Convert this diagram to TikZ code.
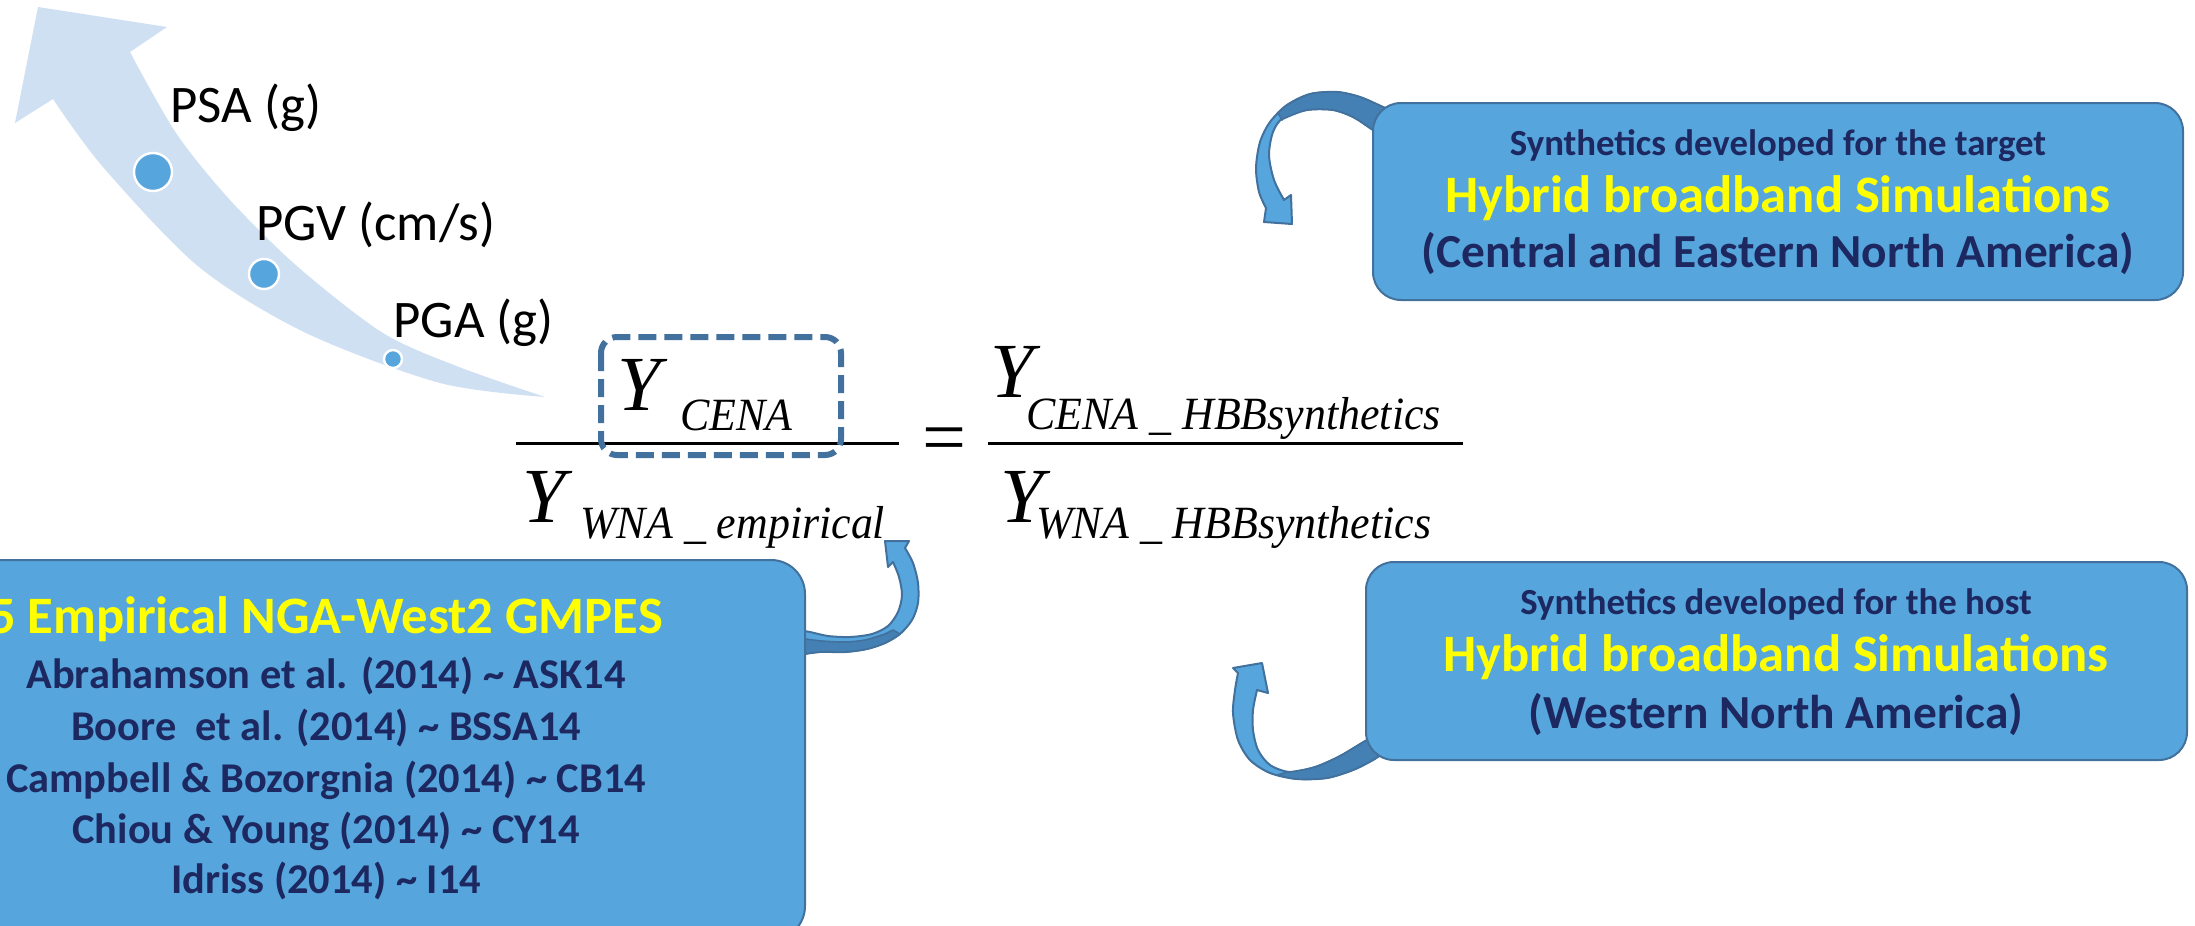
\documentclass[tikz,border=0pt]{standalone}
\usepackage{fontspec}
\newfontfamily\carl{Carlito}
\newfontfamily\eqf{Liberation Serif}
\newfontfamily\eqs[FakeStretch=0.95]{Liberation Serif}
\definecolor{boxfill}{RGB}{86,165,221}
\definecolor{boxline}{RGB}{65,113,156}
\definecolor{ribdark}{RGB}{68,128,180}
\definecolor{bigarrow}{RGB}{208,224,243}
\definecolor{navy}{RGB}{28,40,95}
\definecolor{ylw}{RGB}{255,255,0}
\tikzset{
  lbl/.style={font=\carl\fontsize{26.4}{30}\selectfont, anchor=base west, inner sep=0},
  bluebox/.style={draw=boxline, fill=boxfill, line width=1pt, rounded corners=14pt, inner sep=0},
  rib/.style={fill=boxfill, draw=boxline, line width=1pt, line join=round},
  ribd/.style={fill=ribdark, draw=boxline, line width=0.8pt, line join=round},
  gdot/.style={circle, fill=boxfill, draw=white, line width=1.2pt, inner sep=0},
  eqY/.style={font=\eqf\itshape\fontsize{39}{42}\selectfont, anchor=base west, inner sep=0},
  eqS/.style={font=\eqs\itshape\fontsize{23.1}{26}\selectfont, anchor=base west, inner sep=0},
  tsmall/.style={font=\carl\bfseries\fontsize{18.4}{20}\selectfont, text=navy, anchor=base, inner sep=0},
  tbig/.style={font=\carl\bfseries\fontsize{26.3}{28}\selectfont, text=ylw, anchor=base, inner sep=0},
  tmid/.style={font=\carl\bfseries\fontsize{23.7}{26}\selectfont, text=navy, anchor=base, inner sep=0},
  tlist/.style={font=\carl\bfseries\fontsize{21.2}{24}\selectfont, text=navy, anchor=base, inner sep=0},
  dashbox/.style={draw=boxline, line width=3pt, dash pattern=on 9pt off 4pt, rounded corners=8pt},
  fracbar/.style={line width=1.5pt, black}
}
\begin{document}
\begin{tikzpicture}[x=0.5pt,y=-0.5pt]
\useasboundingbox (0,0) rectangle (2195,926);
\clip (0,0) rectangle (2195,926);
\fill[white] (0,0) rectangle (2195,926);

% big light arrow
\fill[bigarrow] (38,7) -- (167,27) -- plot[smooth] coordinates {(130,52) (176,133) (230,200) (298,267) (383,333) (459,367) (545,397)}
  -- plot[smooth] coordinates {(545,397) (440,383) (306,333) (199,267) (103,167) (53,99)} -- (15,123) -- cycle;
\node[gdot, minimum size=19pt] (dpsa) at (153,172) {};
\node[gdot, minimum size=15pt] (dpgv) at (264,274) {};
\node[gdot, minimum size=9pt] (dpga) at (393,359) {};
\node[lbl] (psa) at (170,122) {PSA (g)};
\node[lbl] (pgv) at (256,240) {PGV (cm/s)};
\node[lbl] (pga) at (393,337) {PGA (g)};

% equation
\node[eqY] (y1) at (617,410) {Y};
\node[eqS] (s1) at (680,430) {CENA};
\node[eqY] (y2) at (522,522) {Y};
\node[eqS] (s2) at (580,538) {WNA \_ empirical};
\node[eqY] (y3) at (990,397) {Y};
\node[eqS] (s3) at (1026,429) {CENA \_ HBBsynthetics};
\node[eqY] (y4) at (1000,522) {Y};
\node[eqS] (s4) at (1036,538) {WNA \_ HBBsynthetics};
\node[font=\eqf\fontsize{39}{42}\selectfont, inner sep=0] (eq) at (944,446) {=};
\coordinate (bar1a) at (516,443); \coordinate (bar1b) at (899,443);
\coordinate (bar2a) at (988,443); \coordinate (bar2b) at (1463,443);
\draw[fracbar] (bar1a) -- (bar1b);
\draw[fracbar] (bar2a) -- (bar2b);
\draw[dashbox] (601,337) rectangle (841,455);

% curved arrow top right
\filldraw[rib] (1266,208) -- (1264,222) -- (1292,224) -- (1291,195) -- (1284,200)
  -- plot[smooth] coordinates {(1284,200) (1274,180) (1269,155) (1273,132) (1283,118) (1307,110) (1333,110) (1353,117) (1370,128) (1385,138)}
  -- plot[smooth] coordinates {(1395,112) (1383,107) (1360,97) (1337,92) (1310,94) (1287,105) (1270,122) (1260,142) (1256,168) (1259,192) (1266,208)} -- cycle;
\filldraw[ribd] plot[smooth] coordinates {(1395,112) (1383,107) (1360,97) (1337,92) (1310,94) (1287,105) (1278,113)}
  -- (1282,120) -- plot[smooth] coordinates {(1283,119) (1307,110) (1333,110) (1353,117) (1370,128) (1385,138)} -- cycle;

% curved arrow bottom right
\filldraw[rib] (1238,673) -- (1233,668) -- (1262,663) -- (1268,693) -- (1257,690)
  -- plot[smooth] coordinates {(1257,690) (1253,710) (1253,730) (1258,750) (1270,765) (1290,772) (1315,767) (1340,756) (1367,740) (1380,735)}
  -- plot[smooth] coordinates {(1392,748) (1385,752) (1373,760) (1353,770) (1327,778) (1297,779) (1270,773) (1250,760) (1238,740) (1233,713) (1235,690) (1238,673)} -- cycle;
\filldraw[ribd] plot[smooth] coordinates {(1392,748) (1385,752) (1373,760) (1353,770) (1327,778) (1297,779) (1277,775)}
  -- (1288,772) -- plot[smooth] coordinates {(1290,772) (1315,767) (1340,756) (1367,740) (1380,735)} -- cycle;

% curved arrow left
\filldraw[rib] (905,548) -- (909,541) -- (885,541) -- (888,567) -- (893,562)
  -- plot[smooth] coordinates {(893,562) (899,577) (902,595) (898,612) (888,626) (872,634) (850,637) (828,636) (810,632) (798,630)}
  -- plot[smooth] coordinates {(798,655) (820,652) (845,652) (867,649) (885,643) (900,634) (912,620) (918,603) (918,583) (913,563) (905,548)} -- cycle;
\filldraw[ribd] plot[smooth] coordinates {(798,655) (820,652) (845,652) (867,649) (885,643) (900,634)}
  -- (893,630) -- plot[smooth] coordinates {(885,634) (865,640) (845,642) (822,641) (798,638)} -- cycle;

% boxes
\node[bluebox, minimum width=405pt, minimum height=98.5pt] (tbox) at (1778,201.5) {};
\node[tsmall] (t1) at (1778,155) {Synthetics developed for the target};
\node[tbig] (t2) at (1778,212) {Hybrid broadband Simulations};
\node[tmid] (t3) at (1778,267) {(Central and Eastern North America)};

\node[bluebox, minimum width=410.5pt, minimum height=99pt] (bbox) at (1776.5,661) {};
\node[tsmall] (b1) at (1776,614) {Synthetics developed for the host};
\node[tbig] (b2) at (1776,671) {Hybrid broadband Simulations};
\node[tmid] (b3) at (1776,728) {(Western North America)};

\node[bluebox, rounded corners=17pt, minimum width=479pt, minimum height=190pt] (lbox) at (326,750) {};
\node[tbig] (l0) at (326,633) {5 Empirical NGA-West2 GMPES};
\node[tlist] (l1) at (326,688) {Abrahamson et al. (2014) \textasciitilde{} ASK14};
\node[tlist] (l2) at (326,740) {Boore\ \ et al. (2014) \textasciitilde{} BSSA14};
\node[tlist] (l3) at (326,792) {Campbell \& Bozorgnia (2014) \textasciitilde{} CB14};
\node[tlist] (l4) at (326,843) {Chiou \& Young (2014) \textasciitilde{} CY14};
\node[tlist] (l5) at (326,893) {Idriss (2014) \textasciitilde{} I14};
\end{tikzpicture}
\end{document}
